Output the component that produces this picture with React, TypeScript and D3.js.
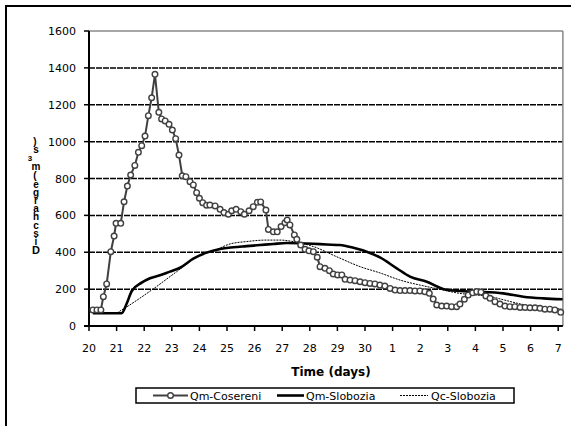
import React from "react";
import * as d3 from "d3";

// x values: days since day "20" (0 = 20, 10 = 30, 11 = 1, ... 17 = 7)
const xTickLabels = ["20","21","22","23","24","25","26","27","28","29","30","1","2","3","4","5","6","7"];
const yTicks = [0,200,400,600,800,1000,1200,1400,1600];

const cosereniDays = [0.14,0.29,0.43,0.52,0.64,0.79,0.91,0.98,1.15,1.27,1.39,1.51,1.66,1.79,1.91,2.03,2.15,2.27,2.39,2.53,2.63,2.76,2.90,3.02,3.14,3.26,3.38,3.51,3.66,3.78,3.90,4.00,4.12,4.26,4.38,4.57,4.75,4.89,5.05,5.17,5.33,5.50,5.63,5.80,5.95,6.10,6.22,6.41,6.50,6.68,6.82,6.96,7.10,7.18,7.28,7.44,7.53,7.67,7.83,7.97,8.13,8.27,8.37,8.55,8.71,8.85,9.01,9.16,9.28,9.46,9.64,9.82,10.00,10.18,10.36,10.54,10.72,10.91,11.09,11.27,11.45,11.63,11.81,11.99,12.17,12.33,12.47,12.60,12.78,12.96,13.14,13.32,13.44,13.60,13.74,13.90,14.05,14.20,14.38,14.53,14.71,14.89,15.07,15.25,15.43,15.62,15.80,15.98,16.16,16.34,16.52,16.70,16.88,17.09];
const cosereniQ = [87,87,87,159,228,403,488,557,557,674,759,819,871,942,978,1030,1141,1238,1365,1159,1123,1112,1094,1063,1016,927,815,810,783,765,723,693,669,655,656,651,633,615,606,625,633,620,606,625,647,671,673,629,524,511,511,539,560,575,548,494,470,439,416,408,403,373,322,313,300,282,277,277,253,249,246,240,235,231,228,222,217,204,195,192,192,192,190,190,186,177,146,114,108,108,105,105,119,145,168,180,186,184,163,150,132,119,108,105,105,101,101,99,99,96,91,91,87,74];

const sloboziaDays = [0.14,1.18,1.37,1.55,1.91,2.21,2.57,2.93,3.30,3.78,4.26,4.75,5.23,5.71,6.20,6.68,7.16,7.64,8.13,8.61,9.09,9.58,10.06,10.54,11.15,11.63,12.24,12.90,13.44,14.05,15.01,15.74,16.46,17.16];
const sloboziaQm = [69,69,123,190,235,259,275,295,316,365,398,418,427,433,439,445,450,449,446,442,439,424,403,372,313,268,240,198,190,186,177,159,150,145];

const qcDays = [0.14,1.01,1.16,2.27,3.18,4.02,4.50,5.11,5.71,6.43,6.92,7.40,8.13,8.97,9.82,10.54,11.27,11.99,12.72,13.44,14.05,14.53,15.07,15.62,16.16,16.70,17.12];
const qcSlobozia = [70,72,85,195,295,385,407,445,458,466,466,458,431,376,322,288,249,222,199,177,168,160,140,120,106,98,92];

const legendNames = ["Qm-Cosereni", "Qm-Slobozia", "Qc-Slobozia"];
// y-axis title rendered as stacked upright characters (as in the reference)
const yTitleChars = [
  { ch: ")", y: 141, x: 35, s: 10 },
  { ch: "s", y: 149, x: 36, s: 10 },
  { ch: "3", y: 157, x: 30, s: 8 },
  { ch: "m", y: 166, x: 36, s: 10 },
  { ch: "(", y: 175, x: 35, s: 10 },
  { ch: "e", y: 184, x: 36, s: 10 },
  { ch: "g", y: 192, x: 36, s: 10 },
  { ch: "r", y: 200, x: 36, s: 10 },
  { ch: "a", y: 208, x: 36, s: 10 },
  { ch: "h", y: 216, x: 36, s: 10 },
  { ch: "c", y: 225, x: 36, s: 10 },
  { ch: "s", y: 233, x: 36, s: 10 },
  { ch: "i", y: 241, x: 36, s: 10 },
  { ch: "D", y: 250, x: 36, s: 11 },
];

const FONT = "'DejaVu Sans', 'Liberation Sans', Arial, sans-serif";

export default function App() {
  const x = d3.scaleLinear().domain([0, 17]).range([89, 558.2]);
  const y = d3.scaleLinear().domain([0, 1600]).range([326, 31]);
  const xRight = x(17.17);

  const cos = cosereniDays.map((d, i) => [d, cosereniQ[i]] as [number, number]);
  const slo = sloboziaDays.map((d, i) => [d, sloboziaQm[i]] as [number, number]);
  const qc = qcDays.map((d, i) => [d, qcSlobozia[i]] as [number, number]);

  const lineLin = d3.line<[number, number]>().x(d => x(d[0])).y(d => y(d[1]));
  const lineSmooth = d3.line<[number, number]>().x(d => x(d[0])).y(d => y(d[1])).curve(d3.curveMonotoneX);

  const legY = 395.5;

  return (
    <svg width={571} height={426} style={{ position: "absolute", left: 0, top: 0, background: "#fff" }}>
      {/* outer frame (left + top) */}
      <line x1={6} y1={5} x2={6} y2={426} stroke="#000" strokeWidth={2} />
      <line x1={5} y1={6} x2={571} y2={6} stroke="#000" strokeWidth={2} />

      {/* gridlines */}
      {yTicks.filter(t => t > 0 && t < 1600).map(t => (
        <line key={t} x1={x(0)} x2={xRight} y1={y(t)} y2={y(t)} stroke="#000" strokeWidth={1.5} strokeDasharray="6,1" />
      ))}
      {/* plot border gray top/right */}
      <line x1={x(0)} x2={xRight} y1={y(1600)} y2={y(1600)} stroke="#888" strokeWidth={1.5} />
      <line x1={xRight} x2={xRight} y1={y(1600)} y2={y(0)} stroke="#888" strokeWidth={1.5} />

      {/* axes */}
      <line x1={x(0)} x2={x(0)} y1={y(1600)} y2={y(0) + 1} stroke="#000" strokeWidth={2} />
      <line x1={x(0) - 5} x2={xRight} y1={y(0)} y2={y(0)} stroke="#000" strokeWidth={2} />
      {yTicks.map(t => (
        <g key={t}>
          <line x1={x(0) - 5} x2={x(0)} y1={y(t)} y2={y(t)} stroke="#000" strokeWidth={1.5} />
          <text x={76} y={y(t) + 4} textAnchor="end" fontFamily={FONT} fontSize={11} fill="#000">{t}</text>
        </g>
      ))}
      {xTickLabels.map((lab, i) => (
        <g key={i}>
          <line x1={x(i)} x2={x(i)} y1={y(0)} y2={y(0) + 5} stroke="#000" strokeWidth={1.5} />
          <text x={x(i)} y={352} textAnchor="middle" fontFamily={FONT} fontSize={11} fill="#000">{lab}</text>
        </g>
      ))}

      {/* series */}
      <path d={lineSmooth(qc) || ""} fill="none" stroke="#000" strokeWidth={1} strokeDasharray="2,1" />
      <path d={lineSmooth(slo) || ""} fill="none" stroke="#000" strokeWidth={2.6} />
      <path d={lineLin(cos) || ""} fill="none" stroke="#404040" strokeWidth={2} />
      {cos.map((d, i) => (
        <circle key={i} cx={x(d[0])} cy={y(d[1])} r={2.8} fill="#fff" stroke="#404040" strokeWidth={1.4} />
      ))}

      {/* axis titles */}
      <text x={331} y={376} textAnchor="middle" fontFamily={FONT} fontWeight="bold" fontSize={12} fill="#000">Time (days)</text>
      <text textAnchor="middle" fontFamily="'Liberation Sans', Arial, sans-serif" fontWeight="bold" fill="#000">
        {yTitleChars.map((c, i) => (
          <tspan key={i} x={c.x} y={c.y + 4} fontSize={c.s}>{c.ch}</tspan>
        ))}
      </text>

      {/* legend */}
      <rect x={136} y={388} width={378} height={15} fill="#fff" stroke="#000" strokeWidth={1.5} />
      <line x1={153} x2={188} y1={legY} y2={legY} stroke="#404040" strokeWidth={2} />
      <circle cx={170.5} cy={legY} r={2.8} fill="#fff" stroke="#404040" strokeWidth={1.4} />
      <text x={190} y={legY + 4} fontFamily={FONT} fontSize={11} fill="#000">{legendNames[0]}</text>
      <line x1={277} x2={304} y1={legY} y2={legY} stroke="#000" strokeWidth={2.6} />
      <text x={306} y={legY + 4} fontFamily={FONT} fontSize={11} fill="#000">{legendNames[1]}</text>
      <line x1={400} x2={428} y1={legY} y2={legY} stroke="#000" strokeWidth={1} strokeDasharray="2,1" />
      <text x={431} y={legY + 4} fontFamily={FONT} fontSize={11} fill="#000">{legendNames[2]}</text>
    </svg>
  );
}
